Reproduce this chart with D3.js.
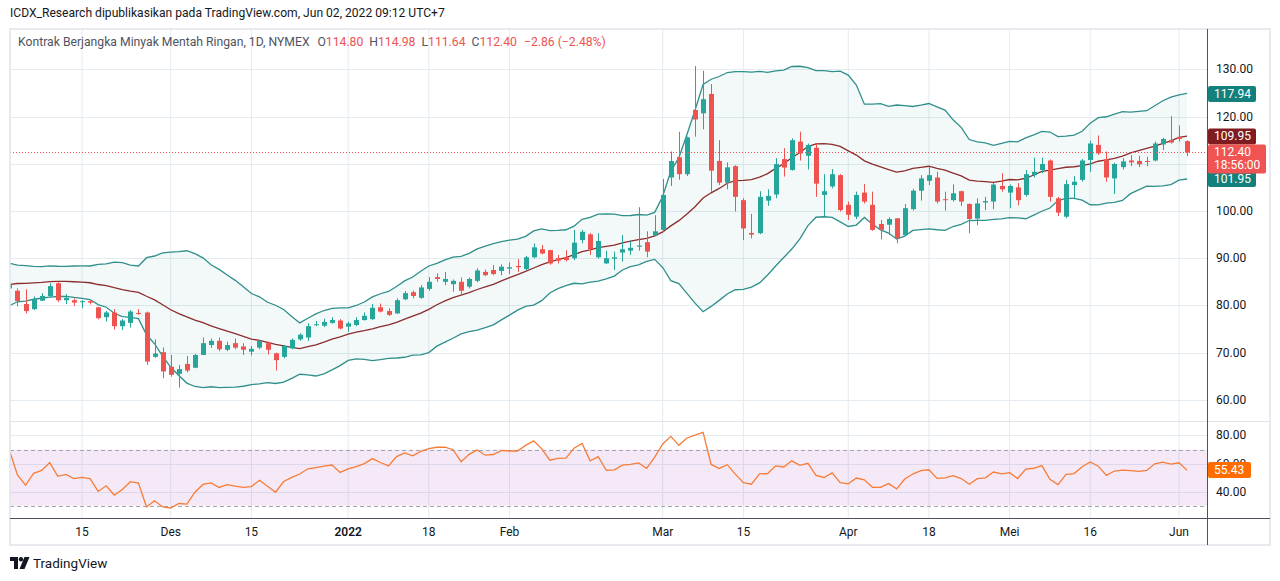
<!DOCTYPE html>
<html>
<head>
<meta charset="utf-8">
<script src="https://cdn.jsdelivr.net/npm/d3@7"></script>
<style>
  body { margin: 0; background: #fff; }
  svg text { font-family: Roboto, "Noto Sans", sans-serif; }
</style>
</head>
<body>
<svg id="chart" width="1280" height="581"></svg>
<script>
// daily bars, CL1! (visible window)
const dates = [
  "2021-11-02","2021-11-03","2021-11-04","2021-11-05","2021-11-08","2021-11-09","2021-11-10","2021-11-11","2021-11-12",
  "2021-11-15","2021-11-16","2021-11-17","2021-11-18","2021-11-19","2021-11-22","2021-11-23","2021-11-24","2021-11-26",
  "2021-11-29","2021-11-30","2021-12-01","2021-12-02","2021-12-03","2021-12-06","2021-12-07","2021-12-08","2021-12-09",
  "2021-12-10","2021-12-13","2021-12-14","2021-12-15","2021-12-16","2021-12-17","2021-12-20","2021-12-21","2021-12-22",
  "2021-12-23","2021-12-27","2021-12-28","2021-12-29","2021-12-30","2021-12-31","2022-01-03","2022-01-04","2022-01-05",
  "2022-01-06","2022-01-07","2022-01-10","2022-01-11","2022-01-12","2022-01-13","2022-01-14","2022-01-18","2022-01-19",
  "2022-01-20","2022-01-21","2022-01-24","2022-01-25","2022-01-26","2022-01-27","2022-01-28","2022-01-31","2022-02-01",
  "2022-02-02","2022-02-03","2022-02-04","2022-02-07","2022-02-08","2022-02-09","2022-02-10","2022-02-11","2022-02-14",
  "2022-02-15","2022-02-16","2022-02-17","2022-02-18","2022-02-22","2022-02-23","2022-02-24","2022-02-25","2022-02-28",
  "2022-03-01","2022-03-02","2022-03-03","2022-03-04","2022-03-07","2022-03-08","2022-03-09","2022-03-10","2022-03-11",
  "2022-03-14","2022-03-15","2022-03-16","2022-03-17","2022-03-18","2022-03-21","2022-03-22","2022-03-23","2022-03-24",
  "2022-03-25","2022-03-28","2022-03-29","2022-03-30","2022-03-31","2022-04-01","2022-04-04","2022-04-05","2022-04-06",
  "2022-04-07","2022-04-08","2022-04-11","2022-04-12","2022-04-13","2022-04-14","2022-04-18","2022-04-19","2022-04-20",
  "2022-04-21","2022-04-22","2022-04-25","2022-04-26","2022-04-27","2022-04-28","2022-04-29","2022-05-02","2022-05-03",
  "2022-05-04","2022-05-05","2022-05-06","2022-05-09","2022-05-10","2022-05-11","2022-05-12","2022-05-13","2022-05-16",
  "2022-05-17","2022-05-18","2022-05-19","2022-05-20","2022-05-23","2022-05-24","2022-05-25","2022-05-26","2022-05-27",
  "2022-05-31","2022-06-01","2022-06-02"
];
const opens = [
  83.6,83.1,80.3,79.2,81.0,82.0,84.7,81.1,81.1, 80.7,80.9,79.6,77.5,78.5,75.6,76.3,78.4,78.5,
  69.1,70.1,67.0,65.5,67.6,66.8,69.5,71.6,72.5, 70.6,72.0,71.3,70.2,71.05,72.0,69.85,69.1,70.9,
  72.8,73.2,75.8,75.7,76.3,76.8,75.5,75.85,76.9, 77.1,79.6,78.8,78.3,81.3,82.8,81.6,83.5,86.0,
  85.0,84.5,85.0,83.97,85.2,87.1,87.5,87.3,87.8, 88.35,87.7,90.2,91.9,91.7,90.0,90.2,90.0,93.85,
  95.05,90.2,88.9,89.9,91.2,91.6,92.45,93.4,94.8, 96.0,107.1,111.4,107.8,121.4,120.7,124.8,110.6,106.0,
  109.5,102.3,95.35,95.3,102.2,103.5,111.0,108.7,114.7, 111.7,113.4,103.4,105.2,107.6,101.3,98.8,103.9,101.3,
  97.25,97.1,98.45,94.9,100.4,104.3,106.4,107.1,102.5, 102.3,104.2,101.5,98.4,101.8,102.0,105.3,103.9,105.0,
  103.4,107.6,108.7,110.7,102.7,98.8,105.5,106.6,110.8, 114.0,110.95,106.9,109.3,110.7,110.6,110.6,110.7,114.1,
  115.05,115.7,114.8
];
const highs = [
  84.9,83.6,83.4,81.9,82.6,84.7,84.9,82.4,81.5, 81.1,81.1,79.7,78.8,79.2,77.1,79.0,79.2,78.7,
  72.8,71.1,69.5,67.4,69.3,69.7,73.2,73.0,73.2, 72.3,73.0,72.0,71.4,72.7,72.3,70.0,71.6,73.0,
  74.1,76.2,76.7,77.2,77.5,77.1,76.6,77.5,78.5, 80.3,80.4,79.4,81.5,83.05,83.1,84.3,86.0,86.8,
  87.1,85.5,85.9,85.9,87.85,87.6,88.56,88.7,89.1, 89.8,90.5,93.15,92.8,91.8,90.7,91.7,96.0,96.0,
  95.3,95.3,91.6,91.4,94.9,93.7,100.8,95.7,99.1, 106.8,112.6,116.8,115.75,130.7,129.7,126.9,115.0,110.3,
  109.7,102.68,99.4,104.2,104.6,111.2,113.3,115.4,116.8, 114.3,114.3,107.8,108.9,107.8,102.0,104.1,105.7,104.1,
  98.1,98.66,98.5,101.5,104.7,107.6,109.4,108.3,104.1, 105.65,104.3,101.6,102.7,103.0,105.9,108.0,105.6,105.9,
  108.7,111.3,111.3,110.9,103.0,106.6,107.4,111.0,114.9, 116.0,112.6,110.2,111.2,111.9,111.7,111.5,114.7,115.5,
  120.1,118.1,114.98
];
const lows = [
  82.9,79.8,78.3,79.0,80.9,81.7,80.7,80.3,79.9, 79.4,80.2,77.05,76.6,74.9,74.8,75.3,78.0,67.4,
  68.9,64.6,64.9,62.6,65.8,66.7,69.5,71.0,70.3, 70.3,70.7,69.5,69.4,70.7,69.6,66.2,68.8,70.7,
  72.5,72.5,75.6,75.4,76.1,74.9,74.4,75.6,76.8, 76.9,78.5,77.75,78.2,81.1,81.5,81.4,83.1,85.0,
  84.3,82.9,82.2,83.6,84.9,86.2,86.4,86.4,86.65, 87.1,87.5,89.97,90.8,88.6,88.9,89.3,89.6,93.15,
  90.7,89.9,88.8,87.5,89.3,90.7,91.6,90.2,94.6, 95.6,105.3,106.6,107.4,115.75,117.3,104.1,105.5,104.6,
  99.9,93.85,94.2,95.1,101.1,102.7,107.3,108.55,110.7, 108.8,103.0,98.8,104.8,99.9,98.1,98.3,101.6,95.8,
  94.0,94.9,93.15,94.7,100.1,102.2,105.5,101.6,100.1, 102.0,101.06,95.3,97.0,100.2,100.4,104.1,100.6,101.2,
  103.05,107.1,108.0,102.0,98.95,98.45,102.7,106.2,108.3, 111.9,106.2,103.6,108.8,109.5,109.3,109.5,110.5,112.9,
  114.3,114.7,111.64
];
const closes = [
  84.4,80.9,78.8,81.3,82.0,84.1,81.1,81.6,80.6, 80.9,80.6,77.3,78.5,75.6,76.8,78.7,78.3,68.1,
  69.8,66.0,65.3,66.5,66.2,69.5,72.0,72.5,70.7, 71.6,71.05,70.6,70.8,72.5,70.6,68.4,71.4,72.7,
  73.8,75.6,76.0,76.5,76.9,75.1,76.2,76.9,77.8, 79.5,78.7,78.0,81.1,82.6,82.0,83.8,85.0,85.6,
  85.6,85.2,83.1,85.6,87.4,86.4,86.65,88.2,88.1, 88.1,90.2,92.3,91.0,88.9,89.5,89.6,93.3,95.6,
  91.9,93.65,90.0,90.2,91.9,92.2,92.7,91.4,95.7, 103.4,110.6,107.8,115.6,119.4,123.7,108.55,106.0,109.25,
  103.0,96.3,95.0,103.0,103.2,109.95,109.2,115.0,112.2, 114.0,105.8,104.2,107.8,100.2,99.2,103.4,102.0,96.0,
  96.0,98.3,94.2,100.6,104.3,106.9,107.6,102.0,102.3, 103.75,102.0,98.3,101.6,102.1,105.6,104.6,105.3,102.3,
  107.8,108.3,109.96,103.0,99.65,105.7,106.2,110.7,114.3, 112.2,107.1,109.96,110.5,110.3,109.9,110.45,114.3,115.25,
  114.5,115.26,112.40
];
// closes before the first visible bar (Sep 1 - Nov 1, 2021), only feed the indicators
const historyCloses = [
  68.59,69.99,69.29,68.35,69.30,68.14,69.72,70.45,70.46,72.61,72.61,71.97,70.29,70.56,72.23,73.30,73.98,
  75.45,75.29,74.83,75.03,75.88,77.62,78.93,77.43,78.30,79.35,80.52,80.64,80.44,81.31,82.28,82.44,82.96,
  83.87,82.50,83.76,83.76,84.65,82.66,82.81,83.57,84.05
];
// values shown in the price-scale labels
const bandLabels = [117.94, 109.95, 101.95];
const rsiLabel = 55.43;
const countdown = "18:56:00";

const priceTicks = [60, 70, 80, 90, 100, 110, 120, 130];
const rsiTicks = [40, 60, 80];
const rsiBands = [70, 30];
const timeTicks = [
  ["2021-11-15", "15"], ["2021-12-01", "Des"], ["2021-12-15", "15"], ["2022-01-03", "2022"],
  ["2022-01-18", "18"], ["2022-02-01", "Feb"], ["2022-03-01", "Mar"], ["2022-03-15", "15"],
  ["2022-04-01", "Apr"], ["2022-04-18", "18"], ["2022-05-02", "Mei"], ["2022-05-16", "16"],
  ["2022-06-01", "Jun"]
];

const upColor = "#26a69a", downColor = "#ef5350";
const bandColor = "#2f8f8b", basisColor = "#8c2c2c";
const gridColor = "#e4ebf1";
const textColor = "#131722";

const frame = {left: 10, top: 29, right: 1270, bottom: 545},
    plotRight = 1207,
    mainBottom = 421,
    rsiBottom = 518;

const svg = d3.select("#chart");

// indicators
const allCloses = historyCloses.concat(closes);
const offset = historyCloses.length;

function bollinger(values, n, k) {
    return values.map(function (v, i) {
        if (i < n - 1) return null;
        const win = values.slice(i - n + 1, i + 1);
        const mean = d3.mean(win);
        const sd = Math.sqrt(d3.mean(win, function (w) { return (w - mean) * (w - mean); }));
        return {basis: mean, upper: mean + k * sd, lower: mean - k * sd};
    }).slice(offset);
}

function rsi(values, n) {
    const out = values.map(function () { return null; });
    let avgGain = 0, avgLoss = 0;
    for (let i = 1; i < values.length; i++) {
        const ch = values[i] - values[i - 1];
        const g = Math.max(ch, 0), l = Math.max(-ch, 0);
        if (i <= n) {
            avgGain += g / n;
            avgLoss += l / n;
        } else {
            avgGain = (avgGain * (n - 1) + g) / n;
            avgLoss = (avgLoss * (n - 1) + l) / n;
        }
        if (i >= n) out[i] = avgLoss === 0 ? 100 : 100 - 100 / (1 + avgGain / avgLoss);
    }
    return out.slice(offset);
}

const bb = bollinger(allCloses, 20, 2);
const rsiValues = rsi(allCloses, 14);

// scales
const x = d3.scaleLinear().domain([0, dates.length - 1]).range([9.4, 9.4 + 8.066 * (dates.length - 1)]);
const y = d3.scaleLinear().domain([55.51, 138.56]).range([mainBottom, frame.top]);
// the band indicator sits on its own (hidden) scale
const bbY = d3.scaleLinear().domain([(55.51 + 7.9) / 1.125, (138.56 + 7.9) / 1.125]).range([mainBottom, frame.top]);
const rsiY = d3.scaleLinear().domain([21.28, 90.32]).range([rsiBottom, mainBottom]);

const defs = svg.append("defs");
defs.append("clipPath").attr("id", "clip-main")
    .append("rect").attr("x", frame.left).attr("y", frame.top)
    .attr("width", plotRight - frame.left).attr("height", mainBottom - frame.top);
defs.append("clipPath").attr("id", "clip-rsi")
    .append("rect").attr("x", frame.left).attr("y", mainBottom)
    .attr("width", plotRight - frame.left).attr("height", rsiBottom - mainBottom);

// header
svg.append("text").attr("x", 10).attr("y", 17)
    .style("font-size", "12.1px").style("fill", textColor)
    .text("ICDX_Research dipublikasikan pada TradingView.com, Jun 02, 2022 09:12 UTC+7");

// grid
const grid = svg.append("g");
grid.selectAll(".vgrid").data(timeTicks).enter().append("line")
    .attr("x1", function (d) { return x(dates.indexOf(d[0])); })
    .attr("x2", function (d) { return x(dates.indexOf(d[0])); })
    .attr("y1", frame.top).attr("y2", rsiBottom)
    .style("stroke", gridColor).style("stroke-width", 1);
grid.selectAll(".hgrid").data(priceTicks).enter().append("line")
    .attr("x1", frame.left).attr("x2", plotRight)
    .attr("y1", function (d) { return Math.round(y(d)) + 0.5; })
    .attr("y2", function (d) { return Math.round(y(d)) + 0.5; })
    .style("stroke", gridColor);
grid.selectAll(".rgrid").data(rsiTicks).enter().append("line")
    .attr("x1", frame.left).attr("x2", plotRight)
    .attr("y1", function (d) { return Math.round(rsiY(d)) + 0.5; })
    .attr("y2", function (d) { return Math.round(rsiY(d)) + 0.5; })
    .style("stroke", gridColor);

// bollinger bands
const main = svg.append("g").attr("clip-path", "url(#clip-main)");
main.append("path").datum(bb)
    .attr("d", d3.area()
        .x(function (d, i) { return x(i); })
        .y0(function (d) { return bbY(d.lower); })
        .y1(function (d) { return bbY(d.upper); }))
    .style("fill", "rgba(33, 150, 140, 0.06)");
["upper", "lower"].forEach(function (key) {
    main.append("path").datum(bb)
        .attr("d", d3.line().x(function (d, i) { return x(i); }).y(function (d) { return bbY(d[key]); }))
        .style("fill", "none").style("stroke", bandColor).style("stroke-width", 1.3);
});
main.append("path").datum(bb)
    .attr("d", d3.line().x(function (d, i) { return x(i); }).y(function (d) { return bbY(d.basis); }))
    .style("fill", "none").style("stroke", basisColor).style("stroke-width", 1.3);

// candles
const candles = main.selectAll(".candle").data(dates).enter().append("g");
candles.append("line")
    .attr("x1", function (d, i) { return Math.round(x(i)) + 0.5; })
    .attr("x2", function (d, i) { return Math.round(x(i)) + 0.5; })
    .attr("y1", function (d, i) { return y(highs[i]); })
    .attr("y2", function (d, i) { return y(lows[i]); })
    .style("stroke", function (d, i) { return closes[i] >= opens[i] ? upColor : downColor; });
candles.append("rect")
    .attr("x", function (d, i) { return Math.round(x(i)) - 2; })
    .attr("width", 5)
    .attr("y", function (d, i) { return y(Math.max(opens[i], closes[i])); })
    .attr("height", function (d, i) { return Math.max(1, Math.abs(y(opens[i]) - y(closes[i]))); })
    .style("fill", function (d, i) { return closes[i] >= opens[i] ? upColor : downColor; });

// last price line
const last = dates.length - 1;
main.append("line")
    .attr("x1", frame.left).attr("x2", plotRight)
    .attr("y1", Math.round(y(closes[last])) + 0.5).attr("y2", Math.round(y(closes[last])) + 0.5)
    .style("stroke", downColor).style("stroke-dasharray", "1,2");

// legend
const change = closes[last] - closes[last - 1];
const legend = svg.append("text").attr("x", 18).attr("y", 46).style("font-size", "12.2px");
legend.append("tspan").style("fill", "#50535e").text("Kontrak Berjangka Minyak Mentah Ringan, 1D, NYMEX");
[["O", opens[last]], ["H", highs[last]], ["L", lows[last]], ["C", closes[last]]].forEach(function (p, k) {
    legend.append("tspan").attr("dx", k === 0 ? 8 : 6).style("fill", "#50535e").text(p[0]);
    legend.append("tspan").style("fill", downColor).text(p[1].toFixed(2));
});
legend.append("tspan").attr("dx", 7).style("fill", downColor)
    .text(d3.format(".2f")(change).replace("-", "\u2212") + " (" +
        d3.format(".2f")(change / closes[last - 1] * 100).replace("-", "\u2212") + "%)");

// RSI pane
const rsiG = svg.append("g").attr("clip-path", "url(#clip-rsi)");
rsiG.append("rect")
    .attr("x", frame.left).attr("width", plotRight - frame.left)
    .attr("y", rsiY(rsiBands[0])).attr("height", rsiY(rsiBands[1]) - rsiY(rsiBands[0]))
    .style("fill", "rgba(156, 39, 176, 0.1)");
rsiG.selectAll(".band").data(rsiBands).enter().append("line")
    .attr("x1", frame.left).attr("x2", plotRight)
    .attr("y1", function (d) { return Math.round(rsiY(d)) + 0.5; })
    .attr("y2", function (d) { return Math.round(rsiY(d)) + 0.5; })
    .style("stroke", "#a3a6af").style("stroke-dasharray", "4,3");
rsiG.append("path").datum(rsiValues)
    .attr("d", d3.line().x(function (d, i) { return x(i); }).y(function (d) { return rsiY(d); }))
    .style("fill", "none").style("stroke", "#f77c36").style("stroke-width", 1.3);

// frame, separators, axes lines
svg.append("rect")
    .attr("x", frame.left).attr("y", frame.top)
    .attr("width", frame.right - frame.left).attr("height", frame.bottom - frame.top)
    .style("fill", "none").style("stroke", "#e0e3eb").style("stroke-width", 1.5);
svg.append("line").attr("x1", frame.left).attr("x2", frame.right)
    .attr("y1", mainBottom + 0.5).attr("y2", mainBottom + 0.5)
    .style("stroke", "#e0e3eb");
svg.append("line").attr("x1", frame.left).attr("x2", frame.right)
    .attr("y1", rsiBottom + 0.5).attr("y2", rsiBottom + 0.5)
    .style("stroke", "#50535e");
svg.append("line").attr("x1", plotRight + 0.5).attr("x2", plotRight + 0.5)
    .attr("y1", frame.top).attr("y2", frame.bottom)
    .style("stroke", "#50535e");

// time axis labels
svg.selectAll(".tlabel").data(timeTicks).enter().append("text")
    .attr("x", function (d) { return x(dates.indexOf(d[0])); })
    .attr("y", 536)
    .style("text-anchor", "middle").style("font-size", "12px").style("fill", textColor)
    .style("font-weight", function (d) { return d[1] === "2022" ? 600 : 400; })
    .text(function (d) { return d[1]; });

// price-scale tags (label boxes) hide the tick labels they cover
const tagH = 16;
const tags = [
    {y: bbY(bandLabels[0]), fill: "#13807b", lines: [bandLabels[0].toFixed(2)], w: 48},
    {y: bbY(bandLabels[2]), fill: "#13807b", lines: [bandLabels[2].toFixed(2)], w: 48},
    {y: bbY(bandLabels[1]), fill: "#801c1f", lines: [bandLabels[1].toFixed(2)], w: 48},
    {y: y(closes[last]), fill: "#f05452", lines: [closes[last].toFixed(2), countdown], w: 58}
];
const covered = function (py) {
    return tags.some(function (t) {
        return py > t.y - tagH / 2 - 5 && py < t.y - tagH / 2 + tagH + (t.lines.length - 1) * 13 + 5;
    });
};

svg.selectAll(".plabel").data(priceTicks.filter(function (d) { return !covered(y(d)); })).enter().append("text")
    .attr("x", 1216).attr("y", function (d) { return y(d) + 4; })
    .style("font-size", "12px").style("fill", textColor)
    .text(function (d) { return d3.format(".2f")(d); });
svg.selectAll(".rlabel").data(rsiTicks).enter().append("text")
    .attr("x", 1216).attr("y", function (d) { return rsiY(d) + 4; })
    .style("font-size", "12px").style("fill", textColor)
    .text(function (d) { return d3.format(".2f")(d); });

function tag(t) {
    const h = tagH + (t.lines.length - 1) * 13;
    const g = svg.append("g");
    g.append("rect").attr("x", plotRight + 1).attr("y", t.y - tagH / 2)
        .attr("width", t.w).attr("height", h).attr("rx", 2)
        .style("fill", t.fill);
    t.lines.forEach(function (s, k) {
        g.append("text").attr("x", 1214).attr("y", t.y + 4 + k * 13)
            .style("font-size", "12px").style("fill", "#fff").text(s);
    });
}
tags.forEach(tag);
tag({y: rsiY(rsiLabel), fill: "#ff6d00", lines: [rsiLabel.toFixed(2)], w: 43});

// TradingView logo
const logo = svg.append("g").attr("transform", "translate(10,557)");
logo.append("path").attr("d", "M0,0 H8 V12 H4 V4 H0 Z").style("fill", textColor);
logo.append("circle").attr("cx", 11).attr("cy", 2.2).attr("r", 2.2).style("fill", textColor);
logo.append("path").attr("d", "M14.5,0 H19.5 L14.5,12 H9.5 Z").style("fill", textColor);
svg.append("text").attr("x", 33).attr("y", 568)
    .style("font-size", "13.5px").style("fill", textColor).text("TradingView");
</script>
</body>
</html>
